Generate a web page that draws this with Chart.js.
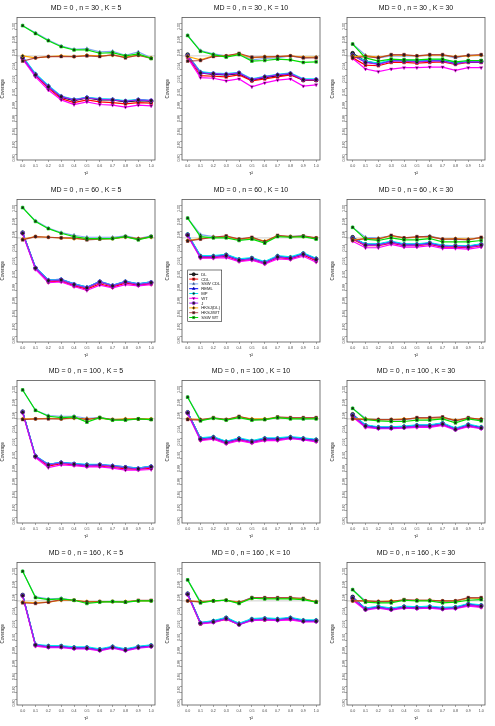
<!DOCTYPE html>
<html>
<head>
<meta charset="utf-8">
<script src="https://cdn.jsdelivr.net/npm/chart.js@4.4.1/dist/chart.umd.min.js"></script>
<style>
  body { margin: 0; background: #fff; overflow: hidden; }
  #grid { position: relative; width: 495px; height: 726px; }
  .panel { position: absolute; width: 165px; height: 182px; }
</style>
</head>
<body>
<div id="grid"></div>
<script>
const tau2 = [0.0, 0.1, 0.2, 0.3, 0.4, 0.5, 0.6, 0.7, 0.8, 0.9, 1.0];
const tau2Labels = ["0.0", "0.1", "0.2", "0.3", "0.4", "0.5", "0.6", "0.7", "0.8", "0.9", "1.0"];
const yTicks = [0.80, 0.81, 0.82, 0.83, 0.84, 0.85, 0.86, 0.87, 0.88, 0.89, 0.90,
                0.91, 0.92, 0.93, 0.94, 0.95, 0.96, 0.97, 0.98, 0.99, 1.00];
const nValues = [30, 60, 100, 160];
const kValues = [5, 10, 30];
const methods = ["DL", "CDL", "SSW CDL", "REML", "MP", "WT", "J", "HKSJ(DL)", "HKSJ/WT", "SSW WT"];

// coverage per panel (rows: n, cols: K)
const n30_K5 = {
    "DL":       [0.947, 0.921, 0.903, 0.887, 0.882, 0.886, 0.883, 0.883, 0.880, 0.882, 0.881],
    "CDL":      [0.946, 0.920, 0.901, 0.885, 0.879, 0.883, 0.880, 0.879, 0.877, 0.879, 0.878],
    "SSW CDL":  [0.996, 0.985, 0.974, 0.965, 0.960, 0.961, 0.956, 0.957, 0.951, 0.956, 0.947],
    "REML":     [0.948, 0.922, 0.904, 0.888, 0.883, 0.887, 0.884, 0.884, 0.881, 0.883, 0.882],
    "MP":       [0.949, 0.923, 0.905, 0.889, 0.884, 0.887, 0.885, 0.884, 0.882, 0.884, 0.882],
    "WT":       [0.945, 0.918, 0.898, 0.883, 0.876, 0.880, 0.876, 0.875, 0.872, 0.875, 0.874],
    "J":        [0.947, 0.921, 0.903, 0.888, 0.883, 0.886, 0.884, 0.883, 0.881, 0.883, 0.882],
    "HKSJ(DL)": [0.950, 0.947, 0.949, 0.950, 0.949, 0.951, 0.950, 0.951, 0.948, 0.951, 0.947],
    "HKSJ/WT":  [0.942, 0.947, 0.949, 0.949, 0.949, 0.950, 0.949, 0.952, 0.947, 0.951, 0.946],
    "SSW WT":   [0.996, 0.984, 0.973, 0.964, 0.959, 0.959, 0.954, 0.955, 0.950, 0.953, 0.946]
};
const n30_K10 = {
    "DL":       [0.952, 0.924, 0.922, 0.921, 0.923, 0.913, 0.917, 0.920, 0.922, 0.913, 0.913],
    "CDL":      [0.948, 0.920, 0.919, 0.918, 0.921, 0.912, 0.915, 0.918, 0.921, 0.913, 0.913],
    "SSW CDL":  [0.981, 0.958, 0.953, 0.950, 0.953, 0.944, 0.946, 0.947, 0.950, 0.947, 0.948],
    "REML":     [0.950, 0.925, 0.923, 0.922, 0.924, 0.914, 0.918, 0.921, 0.923, 0.914, 0.914],
    "MP":       [0.951, 0.926, 0.924, 0.923, 0.925, 0.915, 0.919, 0.922, 0.924, 0.915, 0.915],
    "WT":       [0.947, 0.917, 0.916, 0.912, 0.915, 0.903, 0.909, 0.913, 0.915, 0.904, 0.906],
    "J":        [0.950, 0.924, 0.923, 0.922, 0.924, 0.914, 0.918, 0.921, 0.923, 0.914, 0.914],
    "HKSJ(DL)": [0.949, 0.944, 0.950, 0.950, 0.953, 0.947, 0.949, 0.949, 0.950, 0.948, 0.948],
    "HKSJ/WT":  [0.942, 0.943, 0.949, 0.950, 0.954, 0.948, 0.948, 0.949, 0.950, 0.947, 0.947],
    "SSW WT":   [0.981, 0.957, 0.952, 0.948, 0.952, 0.942, 0.943, 0.945, 0.944, 0.940, 0.941]
};
const n30_K30 = {
    "DL":       [0.954, 0.942, 0.938, 0.943, 0.943, 0.942, 0.943, 0.943, 0.939, 0.942, 0.942],
    "CDL":      [0.947, 0.936, 0.935, 0.940, 0.940, 0.939, 0.940, 0.941, 0.937, 0.940, 0.940],
    "SSW CDL":  [0.968, 0.951, 0.947, 0.950, 0.950, 0.950, 0.951, 0.951, 0.947, 0.951, 0.951],
    "REML":     [0.951, 0.941, 0.938, 0.943, 0.943, 0.942, 0.943, 0.943, 0.939, 0.941, 0.941],
    "MP":       [0.952, 0.942, 0.939, 0.944, 0.944, 0.943, 0.944, 0.944, 0.940, 0.942, 0.942],
    "WT":       [0.946, 0.930, 0.926, 0.930, 0.932, 0.932, 0.933, 0.933, 0.928, 0.932, 0.932],
    "J":        [0.951, 0.940, 0.937, 0.942, 0.942, 0.941, 0.942, 0.942, 0.938, 0.941, 0.941],
    "HKSJ(DL)": [0.949, 0.950, 0.948, 0.951, 0.951, 0.950, 0.951, 0.951, 0.949, 0.950, 0.951],
    "HKSJ/WT":  [0.947, 0.949, 0.947, 0.952, 0.952, 0.950, 0.952, 0.952, 0.948, 0.951, 0.952],
    "SSW WT":   [0.968, 0.947, 0.942, 0.945, 0.944, 0.944, 0.945, 0.945, 0.941, 0.943, 0.943]
};
const n60_K5 = {
    "DL":       [0.958, 0.904, 0.885, 0.886, 0.879, 0.874, 0.883, 0.877, 0.883, 0.879, 0.882],
    "CDL":      [0.957, 0.903, 0.883, 0.884, 0.877, 0.872, 0.880, 0.875, 0.881, 0.878, 0.880],
    "SSW CDL":  [0.996, 0.976, 0.965, 0.958, 0.954, 0.951, 0.951, 0.951, 0.953, 0.949, 0.953],
    "REML":     [0.958, 0.905, 0.886, 0.887, 0.880, 0.875, 0.884, 0.878, 0.884, 0.880, 0.883],
    "MP":       [0.958, 0.905, 0.886, 0.887, 0.880, 0.875, 0.884, 0.878, 0.884, 0.880, 0.883],
    "WT":       [0.956, 0.902, 0.882, 0.883, 0.876, 0.870, 0.878, 0.874, 0.879, 0.877, 0.879],
    "J":        [0.957, 0.904, 0.885, 0.886, 0.879, 0.874, 0.883, 0.877, 0.883, 0.879, 0.882],
    "HKSJ(DL)": [0.948, 0.952, 0.951, 0.950, 0.949, 0.948, 0.949, 0.949, 0.951, 0.949, 0.951],
    "HKSJ/WT":  [0.947, 0.952, 0.951, 0.950, 0.950, 0.947, 0.948, 0.949, 0.952, 0.948, 0.952],
    "SSW WT":   [0.996, 0.975, 0.964, 0.957, 0.952, 0.949, 0.949, 0.949, 0.952, 0.947, 0.952]
};
const n60_K10 = {
    "DL":       [0.955, 0.922, 0.922, 0.924, 0.917, 0.919, 0.913, 0.922, 0.920, 0.926, 0.918],
    "CDL":      [0.954, 0.920, 0.920, 0.922, 0.915, 0.917, 0.911, 0.920, 0.918, 0.924, 0.915],
    "SSW CDL":  [0.980, 0.955, 0.952, 0.951, 0.947, 0.949, 0.944, 0.953, 0.952, 0.953, 0.949],
    "REML":     [0.955, 0.922, 0.922, 0.924, 0.917, 0.919, 0.913, 0.922, 0.920, 0.926, 0.918],
    "MP":       [0.956, 0.923, 0.923, 0.925, 0.918, 0.920, 0.914, 0.923, 0.921, 0.927, 0.919],
    "WT":       [0.953, 0.919, 0.919, 0.920, 0.914, 0.916, 0.910, 0.918, 0.917, 0.922, 0.913],
    "J":        [0.954, 0.921, 0.921, 0.923, 0.916, 0.918, 0.912, 0.921, 0.919, 0.925, 0.917],
    "HKSJ(DL)": [0.946, 0.949, 0.951, 0.952, 0.948, 0.950, 0.945, 0.953, 0.952, 0.952, 0.950],
    "HKSJ/WT":  [0.945, 0.948, 0.951, 0.953, 0.948, 0.951, 0.944, 0.954, 0.952, 0.953, 0.950],
    "SSW WT":   [0.980, 0.952, 0.950, 0.950, 0.946, 0.948, 0.942, 0.952, 0.951, 0.952, 0.948]
};
const n60_K30 = {
    "DL":       [0.951, 0.940, 0.940, 0.944, 0.940, 0.940, 0.942, 0.938, 0.938, 0.937, 0.940],
    "CDL":      [0.948, 0.938, 0.938, 0.942, 0.938, 0.938, 0.940, 0.936, 0.936, 0.935, 0.938],
    "SSW CDL":  [0.966, 0.951, 0.950, 0.953, 0.950, 0.951, 0.953, 0.948, 0.948, 0.948, 0.950],
    "REML":     [0.950, 0.940, 0.940, 0.944, 0.940, 0.940, 0.942, 0.938, 0.938, 0.937, 0.940],
    "MP":       [0.950, 0.941, 0.941, 0.945, 0.941, 0.941, 0.943, 0.939, 0.938, 0.938, 0.941],
    "WT":       [0.945, 0.935, 0.935, 0.940, 0.936, 0.936, 0.938, 0.934, 0.934, 0.933, 0.936],
    "J":        [0.949, 0.939, 0.939, 0.943, 0.939, 0.939, 0.941, 0.937, 0.937, 0.936, 0.939],
    "HKSJ(DL)": [0.947, 0.949, 0.949, 0.953, 0.950, 0.951, 0.952, 0.948, 0.949, 0.948, 0.950],
    "HKSJ/WT":  [0.946, 0.949, 0.948, 0.954, 0.950, 0.952, 0.952, 0.948, 0.948, 0.947, 0.951],
    "SSW WT":   [0.966, 0.948, 0.946, 0.950, 0.947, 0.947, 0.949, 0.944, 0.944, 0.944, 0.946]
};
const n100_K5 = {
    "DL":       [0.961, 0.893, 0.880, 0.883, 0.881, 0.880, 0.880, 0.878, 0.876, 0.874, 0.877],
    "CDL":      [0.960, 0.892, 0.878, 0.882, 0.880, 0.878, 0.878, 0.876, 0.874, 0.873, 0.875],
    "SSW CDL":  [0.994, 0.963, 0.955, 0.954, 0.954, 0.951, 0.952, 0.949, 0.949, 0.950, 0.949],
    "REML":     [0.961, 0.893, 0.881, 0.884, 0.882, 0.880, 0.880, 0.879, 0.877, 0.875, 0.878],
    "MP":       [0.961, 0.894, 0.881, 0.884, 0.882, 0.881, 0.881, 0.879, 0.877, 0.875, 0.878],
    "WT":       [0.959, 0.891, 0.876, 0.880, 0.879, 0.877, 0.877, 0.875, 0.872, 0.872, 0.873],
    "J":        [0.960, 0.893, 0.880, 0.883, 0.881, 0.879, 0.880, 0.878, 0.876, 0.874, 0.877],
    "HKSJ(DL)": [0.950, 0.950, 0.951, 0.950, 0.951, 0.950, 0.951, 0.949, 0.950, 0.950, 0.950],
    "HKSJ/WT":  [0.949, 0.950, 0.950, 0.950, 0.952, 0.949, 0.952, 0.949, 0.949, 0.950, 0.949],
    "SSW WT":   [0.994, 0.963, 0.954, 0.952, 0.953, 0.945, 0.952, 0.948, 0.948, 0.950, 0.949]
};
const n100_K10 = {
    "DL":       [0.960, 0.920, 0.922, 0.915, 0.920, 0.916, 0.920, 0.920, 0.922, 0.920, 0.918],
    "CDL":      [0.959, 0.918, 0.920, 0.913, 0.918, 0.914, 0.918, 0.918, 0.921, 0.919, 0.916],
    "SSW CDL":  [0.983, 0.949, 0.951, 0.949, 0.953, 0.949, 0.950, 0.951, 0.951, 0.950, 0.951],
    "REML":     [0.960, 0.920, 0.922, 0.915, 0.920, 0.916, 0.920, 0.920, 0.922, 0.920, 0.918],
    "MP":       [0.960, 0.921, 0.923, 0.916, 0.921, 0.917, 0.921, 0.921, 0.923, 0.921, 0.919],
    "WT":       [0.958, 0.917, 0.919, 0.912, 0.917, 0.913, 0.917, 0.917, 0.920, 0.918, 0.915],
    "J":        [0.959, 0.919, 0.921, 0.914, 0.919, 0.915, 0.919, 0.919, 0.921, 0.919, 0.917],
    "HKSJ(DL)": [0.950, 0.949, 0.951, 0.949, 0.953, 0.950, 0.950, 0.952, 0.951, 0.951, 0.951],
    "HKSJ/WT":  [0.949, 0.948, 0.952, 0.949, 0.954, 0.949, 0.949, 0.953, 0.952, 0.952, 0.952],
    "SSW WT":   [0.983, 0.947, 0.951, 0.948, 0.952, 0.948, 0.949, 0.952, 0.950, 0.950, 0.950]
};
const n100_K30 = {
    "DL":       [0.957, 0.940, 0.937, 0.937, 0.938, 0.940, 0.940, 0.943, 0.935, 0.941, 0.937],
    "CDL":      [0.954, 0.938, 0.936, 0.936, 0.937, 0.938, 0.938, 0.941, 0.934, 0.939, 0.936],
    "SSW CDL":  [0.966, 0.951, 0.949, 0.949, 0.949, 0.951, 0.951, 0.952, 0.947, 0.951, 0.949],
    "REML":     [0.956, 0.940, 0.937, 0.937, 0.938, 0.940, 0.940, 0.943, 0.935, 0.941, 0.937],
    "MP":       [0.956, 0.941, 0.938, 0.938, 0.939, 0.941, 0.941, 0.944, 0.936, 0.942, 0.938],
    "WT":       [0.953, 0.937, 0.935, 0.935, 0.936, 0.937, 0.937, 0.940, 0.933, 0.938, 0.935],
    "J":        [0.955, 0.939, 0.936, 0.936, 0.937, 0.939, 0.939, 0.942, 0.934, 0.940, 0.936],
    "HKSJ(DL)": [0.950, 0.950, 0.949, 0.949, 0.950, 0.951, 0.951, 0.952, 0.948, 0.951, 0.950],
    "HKSJ/WT":  [0.950, 0.949, 0.949, 0.949, 0.949, 0.952, 0.952, 0.953, 0.947, 0.952, 0.949],
    "SSW WT":   [0.966, 0.949, 0.947, 0.946, 0.946, 0.948, 0.948, 0.950, 0.944, 0.950, 0.947]
};
const n160_K5 = {
    "DL":       [0.959, 0.883, 0.881, 0.881, 0.879, 0.879, 0.876, 0.880, 0.876, 0.880, 0.882],
    "CDL":      [0.958, 0.882, 0.880, 0.880, 0.878, 0.878, 0.875, 0.879, 0.875, 0.879, 0.881],
    "SSW CDL":  [0.995, 0.956, 0.953, 0.954, 0.951, 0.948, 0.949, 0.949, 0.948, 0.950, 0.950],
    "REML":     [0.959, 0.883, 0.881, 0.881, 0.879, 0.879, 0.876, 0.880, 0.876, 0.880, 0.882],
    "MP":       [0.959, 0.884, 0.882, 0.882, 0.880, 0.880, 0.877, 0.881, 0.877, 0.881, 0.883],
    "WT":       [0.957, 0.881, 0.879, 0.879, 0.877, 0.877, 0.874, 0.878, 0.874, 0.878, 0.880],
    "J":        [0.958, 0.883, 0.880, 0.880, 0.878, 0.878, 0.875, 0.879, 0.875, 0.879, 0.881],
    "HKSJ(DL)": [0.948, 0.947, 0.948, 0.951, 0.951, 0.949, 0.949, 0.949, 0.949, 0.950, 0.950],
    "HKSJ/WT":  [0.947, 0.946, 0.948, 0.952, 0.951, 0.948, 0.949, 0.949, 0.948, 0.951, 0.951],
    "SSW WT":   [0.995, 0.955, 0.952, 0.953, 0.951, 0.946, 0.948, 0.949, 0.948, 0.950, 0.950]
};
const n160_K10 = {
    "DL":       [0.961, 0.916, 0.919, 0.924, 0.915, 0.922, 0.923, 0.922, 0.924, 0.920, 0.920],
    "CDL":      [0.960, 0.915, 0.918, 0.922, 0.914, 0.921, 0.921, 0.921, 0.922, 0.919, 0.919],
    "SSW CDL":  [0.982, 0.949, 0.950, 0.951, 0.948, 0.955, 0.954, 0.954, 0.954, 0.953, 0.949],
    "REML":     [0.961, 0.917, 0.919, 0.924, 0.915, 0.922, 0.923, 0.922, 0.924, 0.920, 0.920],
    "MP":       [0.961, 0.917, 0.920, 0.925, 0.916, 0.923, 0.924, 0.923, 0.925, 0.921, 0.921],
    "WT":       [0.959, 0.915, 0.917, 0.922, 0.914, 0.920, 0.921, 0.920, 0.921, 0.918, 0.918],
    "J":        [0.960, 0.916, 0.918, 0.923, 0.914, 0.921, 0.922, 0.921, 0.923, 0.919, 0.919],
    "HKSJ(DL)": [0.950, 0.949, 0.950, 0.951, 0.948, 0.954, 0.954, 0.954, 0.954, 0.953, 0.949],
    "HKSJ/WT":  [0.950, 0.948, 0.950, 0.951, 0.947, 0.955, 0.955, 0.955, 0.955, 0.954, 0.948],
    "SSW WT":   [0.982, 0.947, 0.950, 0.951, 0.946, 0.954, 0.953, 0.953, 0.953, 0.952, 0.948]
};
const n160_K30 = {
    "DL":       [0.956, 0.938, 0.941, 0.938, 0.941, 0.940, 0.941, 0.939, 0.940, 0.945, 0.943],
    "CDL":      [0.953, 0.937, 0.940, 0.937, 0.940, 0.939, 0.940, 0.938, 0.939, 0.943, 0.941],
    "SSW CDL":  [0.967, 0.950, 0.949, 0.949, 0.951, 0.951, 0.951, 0.949, 0.950, 0.954, 0.953],
    "REML":     [0.955, 0.938, 0.941, 0.938, 0.941, 0.940, 0.941, 0.939, 0.940, 0.945, 0.943],
    "MP":       [0.955, 0.939, 0.942, 0.939, 0.942, 0.941, 0.942, 0.940, 0.941, 0.946, 0.944],
    "WT":       [0.951, 0.936, 0.939, 0.936, 0.939, 0.938, 0.939, 0.937, 0.938, 0.942, 0.940],
    "J":        [0.954, 0.937, 0.940, 0.937, 0.940, 0.939, 0.940, 0.938, 0.939, 0.944, 0.942],
    "HKSJ(DL)": [0.950, 0.950, 0.949, 0.950, 0.951, 0.951, 0.951, 0.950, 0.950, 0.954, 0.954],
    "HKSJ/WT":  [0.950, 0.950, 0.949, 0.949, 0.952, 0.951, 0.951, 0.950, 0.950, 0.955, 0.955],
    "SSW WT":   [0.967, 0.948, 0.947, 0.947, 0.951, 0.950, 0.950, 0.947, 0.948, 0.951, 0.952]
};

const panels = [
    [n30_K5, n30_K10, n30_K30],
    [n60_K5, n60_K10, n60_K30],
    [n100_K5, n100_K10, n100_K30],
    [n160_K5, n160_K10, n160_K30],
];

const nominal = 0.95;
const FONT = "'Liberation Sans', Arial, Helvetica, sans-serif";

const styles = {
    "DL":       { color: "#000000", point: "circle",   rot: 0 },
    "CDL":      { color: "#ff0000", point: "rect",     rot: 0 },
    "SSW CDL":  { color: "#7fa8ee", point: "triangle", rot: 0 },
    "REML":     { color: "#0000ff", point: "triangle", rot: 0 },
    "MP":       { color: "#00e5ee", point: "rectRot",  rot: 0 },
    "WT":       { color: "#ff00ff", point: "triangle", rot: 180 },
    "J":        { color: "#a020f0", point: "circle",   rot: 0 },
    "HKSJ(DL)": { color: "#ffa500", point: "rectRot",  rot: 0 },
    "HKSJ/WT":  { color: "rgba(165,42,42,0.8)", point: "rect", rot: 0 },
    "SSW WT":   { color: "#00e000", point: "rect",     rot: 0 },
};

// reference line, box, title and (for one panel) the legend
const decoPlugin = {
    id: "deco",
    beforeDatasetsDraw(chart) {
        const a = chart.chartArea;
        const y = chart.scales.y.getPixelForValue(nominal);
        const ctx = chart.ctx;
        ctx.save();
        ctx.strokeStyle = "#cfcfcf";
        ctx.lineWidth = 1;
        ctx.beginPath();
        ctx.moveTo(a.left, y);
        ctx.lineTo(a.right, y);
        ctx.stroke();
        ctx.restore();
    },
    afterDraw(chart, args, opts) {
        const a = chart.chartArea;
        const ctx = chart.ctx;
        ctx.save();
        ctx.strokeStyle = "#555";
        ctx.lineWidth = 0.8;
        ctx.strokeRect(a.left, a.top, a.right - a.left, a.bottom - a.top);

        ctx.fillStyle = "#111";
        ctx.font = "7px " + FONT;
        ctx.textAlign = "center";
        ctx.textBaseline = "middle";
        ctx.fillText(opts.title, (a.left + a.right) / 2, 8.5);

        if (opts.legend) {
            const x0 = a.left + 5.7, y0 = a.top + 70.5;
            ctx.strokeStyle = "#222";
            ctx.lineWidth = 0.6;
            ctx.strokeRect(x0, y0, 34, 51.5);
            ctx.font = "4.2px " + FONT;
            ctx.textAlign = "left";
            methods.forEach((m, i) => {
                const st = styles[m];
                const yy = y0 + 4.3 + i * 4.8;
                ctx.strokeStyle = st.color;
                ctx.lineWidth = 1;
                ctx.beginPath();
                ctx.moveTo(x0 + 1.5, yy);
                ctx.lineTo(x0 + 10.5, yy);
                ctx.stroke();
                ctx.fillStyle = "#222";
                ctx.strokeStyle = st.color;
                ctx.lineWidth = 0.6;
                Chart.helpers.drawPoint(ctx, { pointStyle: st.point, radius: 1.6, rotation: st.rot, borderWidth: 0.6 }, x0 + 6, yy);
                ctx.fillStyle = "#111";
                ctx.fillText(m, x0 + 13.5, yy + 0.3);
            });
        }
        ctx.restore();
    }
};

const grid = document.getElementById("grid");

panels.forEach((row, r) => {
    row.forEach((cov, c) => {
        const div = document.createElement("div");
        div.className = "panel";
        div.style.left = (c * 165) + "px";
        div.style.top = Math.round(r * 181.5) + "px";
        const cv = document.createElement("canvas");
        div.appendChild(cv);
        grid.appendChild(div);

        const datasets = methods.map((m, i) => ({
            label: m,
            data: tau2.map((t, j) => ({ x: t, y: cov[m][j] })),
            borderColor: styles[m].color,
            backgroundColor: styles[m].color,
            borderWidth: 1.2,
            pointStyle: styles[m].point,
            pointRotation: styles[m].rot,
            pointRadius: 1.9,
            pointBackgroundColor: "#1a1a1a",
            pointBorderColor: styles[m].color,
            pointBorderWidth: 0.6,
            tension: 0,
            order: methods.length - i,
        }));

        new Chart(cv, {
            type: "line",
            data: { datasets },
            options: {
                responsive: true,
                maintainAspectRatio: false,
                devicePixelRatio: 1,
                animation: false,
                events: [],
                layout: { padding: { top: 17.5, right: 10, left: 0, bottom: 0 } },
                plugins: {
                    legend: { display: false },
                    tooltip: { enabled: false },
                    deco: {
                        title: "MD = 0 , n = " + nValues[r] + " , K = " + kValues[c],
                        legend: r === 1 && c === 1,
                    },
                },
                scales: {
                    x: {
                        type: "linear",
                        min: -0.044,
                        max: 1.03,
                        afterBuildTicks: (s) => { s.ticks = tau2.map((v) => ({ value: v })); },
                        afterFit: (s) => { s.height = 22; },
                        border: { display: false },
                        grid: { drawOnChartArea: false, tickLength: 2, color: "#555", lineWidth: 0.5 },
                        ticks: {
                            autoSkip: false,
                            maxRotation: 0,
                            padding: 1.5,
                            color: "#444",
                            font: { size: 3.6, family: FONT },
                            callback: (v, i) => tau2Labels[i],
                        },
                        title: { display: true, text: "τ²", color: "#222", font: { size: 5, family: FONT }, padding: { top: 0, bottom: 5 } },
                    },
                    y: {
                        min: 0.7916,
                        max: 1.0084,
                        afterBuildTicks: (s) => { s.ticks = yTicks.map((v) => ({ value: v })); },
                        afterFit: (s) => { s.width = 17; },
                        border: { display: false },
                        grid: { drawOnChartArea: false, tickLength: 2, color: "#555", lineWidth: 0.5 },
                        ticks: {
                            autoSkip: false,
                            minRotation: 90,
                            maxRotation: 90,
                            padding: 1.5,
                            color: "#444",
                            font: { size: 3.6, family: FONT },
                            callback: (v) => (Math.round(v * 100) % 2 === 0 ? v.toFixed(2) : ""),
                        },
                        title: { display: true, text: "Coverage", color: "#222", font: { size: 4.5, family: FONT }, padding: 0 },
                    },
                },
            },
            plugins: [decoPlugin],
        });
    });
});
</script>
</body>
</html>
